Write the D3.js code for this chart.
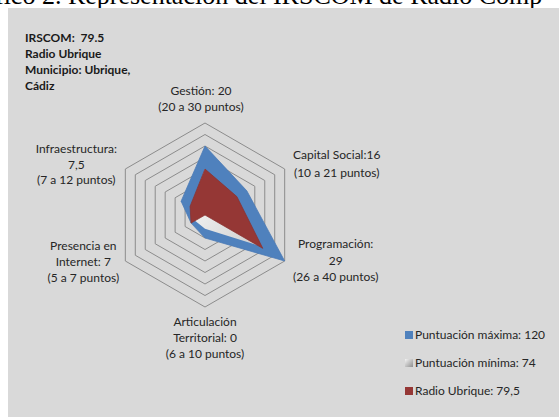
<!DOCTYPE html>
<html>
<head>
<meta charset="utf-8">
<script src="https://cdn.jsdelivr.net/npm/d3@7"></script>
<style>
  body { margin: 0; background: #fff; }
  svg text { font-family: Lato, "Open Sans", sans-serif; }
</style>
</head>
<body>
<div id="container"></div>
<script>
/* CONSTANTS AND GLOBALS */
const width = 559,
  height = 417,
  cx = 205,
  cy = 215,
  radius = 92;

/* DATA */
const axes = ["Gestión", "Capital Social", "Programación", "Articulación Territorial", "Presencia en Internet", "Infraestructura"];
const maxScores = [30, 21, 40, 10, 7, 12];
const minScores = [20, 10, 26, 6, 5, 7];
const ubriqueScores = [20, 16, 29, 0, 7, 7.5];
const ringTicks = [5, 10, 15, 20, 25, 30, 35, 40];
const axisLabels = [
  ["Gestión: 20", "(20 a 30 puntos)"],
  ["Capital Social:16", "(10 a 21 puntos)"],
  ["Programación:", "29", "(26 a 40 puntos)"],
  ["Articulación", "Territorial: 0", "(6 a 10 puntos)"],
  ["Presencia en", "Internet: 7", "(5 a 7 puntos)"],
  ["Infraestructura:", "7,5", "(7 a 12 puntos)"]
];
const infoLines = ["IRSCOM:  79.5", "Radio Ubrique", "Municipio: Ubrique,", "Cádiz"];
const legendNames = ["Puntuación máxima: 120", "Puntuación mínima: 74", "Radio Ubrique: 79,5"];
const captionText = "Gráfico 2. Representación del IRSCOM de Radio Comp";

// label nudges from the outer vertex (layout only)
const labelNudge = [[-4, -28, 15.5], [52, -10, 18], [51, -13, 16.5], [0, 19, 16], [-42, -11, 16], [-49, -16, 15.5]];

/* SCALES */
const rScale = d3.scaleLinear()
  .domain([0, d3.max(ringTicks)])
  .range([0, radius]);

const angle = i => i * 2 * Math.PI / axes.length;
const pt = (i, v) => [cx + rScale(v) * Math.sin(angle(i)), cy - rScale(v) * Math.cos(angle(i))];

const lineGen = d3.line().curve(d3.curveLinearClosed);

/* CREATE SVG ELEMENT */
const svg = d3.select("#container")
  .append("svg")
  .attr("width", width)
  .attr("height", height);

const defs = svg.append("defs");
const grad = defs.append("linearGradient")
  .attr("id", "minGrad")
  .attr("x1", "0%").attr("y1", "0%")
  .attr("x2", "100%").attr("y2", "100%");
grad.append("stop").attr("offset", "0%").attr("stop-color", "#ffffff");
grad.append("stop").attr("offset", "100%").attr("stop-color", "#cfcfcf");

const legGrad = defs.append("linearGradient")
  .attr("id", "minLegGrad")
  .attr("x1", "0%").attr("y1", "0%")
  .attr("x2", "100%").attr("y2", "100%");
legGrad.append("stop").attr("offset", "0%").attr("stop-color", "#f4f4f4");
legGrad.append("stop").attr("offset", "100%").attr("stop-color", "#8f8f8f");

// cut-off caption above the chart
svg.append("text")
  .attr("x", -44)
  .attr("y", 4)
  .attr("font-size", 26)
  .style("font-family", "'Liberation Serif', serif")
  .attr("fill", "#000")
  .text(captionText);

// chart area
svg.append("rect")
  .attr("x", 8)
  .attr("y", 8)
  .attr("width", width - 8)
  .attr("height", height - 8)
  .attr("fill", "#d9d9d9");

/* GRID RINGS */
svg.selectAll(".ring")
  .data(ringTicks)
  .join("path")
  .attr("class", "ring")
  .attr("fill", "none")
  .attr("stroke", "#8c8c8c")
  .attr("stroke-width", 1)
  .attr("d", t => lineGen(axes.map((a, i) => pt(i, t))));

/* SERIES */
const series = [
  { values: maxScores, fill: "#4f81bd", stroke: "#4a7ab5", swatch: "#4f81bd" },
  { values: minScores, fill: "url(#minGrad)", stroke: "none", swatch: "url(#minLegGrad)" },
  { values: ubriqueScores, fill: "#953735", stroke: "#8a3230", swatch: "#953735" }
];

svg.selectAll(".series")
  .data(series)
  .join("path")
  .attr("class", "series")
  .attr("fill", d => d.fill)
  .attr("stroke", d => d.stroke)
  .attr("stroke-width", 0.75)
  .attr("stroke-linejoin", "miter")
  .attr("d", d => lineGen(d.values.map((v, i) => pt(i, v))));

/* AXIS LABELS */
axisLabels.forEach((lines, i) => {
  const [vx, vy] = pt(i, d3.max(ringTicks));
  const [dx, dy, lh] = labelNudge[i];
  const t = svg.append("text")
    .attr("text-anchor", "middle")
    .attr("font-size", 12)
    .attr("fill", "#262626");
  lines.forEach((l, j) => {
    t.append("tspan")
      .attr("x", vx + dx)
      .attr("y", vy + dy + j * lh)
      .text(l);
  });
});

/* INFO BLOCK */
svg.selectAll(".info")
  .data(infoLines)
  .join("text")
  .attr("class", "info")
  .attr("x", 25)
  .attr("y", (d, i) => 42 + i * 16)
  .attr("font-size", 12)
  .attr("font-weight", "bold")
  .attr("fill", "#1a1a1a")
  .style("white-space", "pre")
  .text(d => d);

/* LEGEND */
const legend = svg.selectAll(".legend")
  .data(series)
  .join("g")
  .attr("class", "legend")
  .attr("transform", (d, i) => `translate(405, ${331 + i * 28})`);

legend.append("rect")
  .attr("width", 8)
  .attr("height", 8)
  .attr("fill", d => d.swatch);

legend.append("text")
  .attr("x", 10)
  .attr("y", 7.5)
  .attr("font-size", 12)
  .attr("fill", "#262626")
  .text((d, i) => legendNames[i]);
</script>
</body>
</html>
